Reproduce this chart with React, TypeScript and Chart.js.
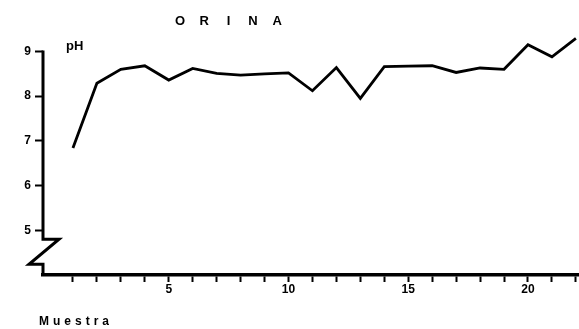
import React, { useEffect, useRef } from "react";
import { Chart, registerables } from "chart.js";

Chart.register(...registerables);

// ---- data ----
const samples: number[] = [1, 2, 3, 4, 5, 6, 7, 8, 9, 10, 11, 12, 13, 14, 15, 16, 17, 18, 19, 20, 21, 22];
const phValues: number[] = [6.84, 8.29, 8.6, 8.68, 8.36, 8.62, 8.51, 8.47, 8.5, 8.52, 8.12, 8.64, 7.95, 8.66, 8.67, 8.68, 8.53, 8.63, 8.6, 9.15, 8.88, 9.29];
const yTickValues: number[] = [5, 6, 7, 8, 9];
const xLabelEvery = 5;
const titleText = "ORINA";
const yUnitText = "pH";
const xTitleText = "Muestra";

const FONT = "'Liberation Sans', Arial, sans-serif";

const decorPlugin = {
  id: "decor",
  afterDraw(chart: any) {
    const ctx = chart.ctx as CanvasRenderingContext2D;
    const y = chart.scales.y;
    const area = chart.chartArea;
    const x0 = area.left;
    ctx.save();
    // y axis line with break
    ctx.strokeStyle = "#000";
    ctx.lineWidth = 3;
    ctx.lineJoin = "miter";
    const yTop = y.getPixelForValue(9) - 1;
    const yb1 = y.getPixelForValue(4.8);
    const yb2 = y.getPixelForValue(4.24);
    ctx.beginPath();
    ctx.moveTo(x0, yTop);
    ctx.lineTo(x0, yb1);
    ctx.lineTo(x0 + 16, yb1);
    ctx.lineTo(x0 - 14, yb2);
    ctx.lineTo(x0, yb2);
    ctx.lineTo(x0, area.bottom);
    ctx.stroke();

    ctx.fillStyle = "#000";
    // title
    ctx.font = `bold 13px ${FONT}`;
    ctx.textAlign = "center";
    ctx.textBaseline = "middle";
    const chars = titleText.split("");
    chars.forEach((c, i) => {
      ctx.fillText(c, 180 + i * 24.3, 21);
    });
    // pH
    ctx.font = `bold 13px ${FONT}`;
    ctx.textAlign = "left";
    ctx.fillText(yUnitText, 66, 46);
    // Muestra
    (ctx as any).letterSpacing = "4px";
    ctx.font = `bold 12px ${FONT}`;
    ctx.textAlign = "left";
    ctx.textBaseline = "alphabetic";
    ctx.fillText(xTitleText, 39, 325);
    (ctx as any).letterSpacing = "0px";
    ctx.restore();
  },
};

export default function App() {
  const ref = useRef<HTMLCanvasElement>(null);
  useEffect(() => {
    if (!ref.current) return;
    const chart = new Chart(ref.current, {
      type: "line",
      data: {
        datasets: [
          {
            data: samples.map((s, i) => ({ x: s, y: phValues[i] })),
            borderColor: "#000",
            borderWidth: 2.8,
            pointRadius: 0,
            tension: 0,
            fill: false,
          },
        ],
      },
      options: {
        animation: false,
        responsive: false,
        layout: { padding: { top: 2, left: 0, right: 0, bottom: 0 } },
        plugins: { legend: { display: false }, tooltip: { enabled: false }, title: { display: false } },
        scales: {
          x: {
            type: "linear",
            min: -0.25,
            max: 22.13,
            afterBuildTicks: (axis: any) => {
              axis.ticks = samples.map((v) => ({ value: v }));
            },
            afterFit: (scale: any) => {
              scale.height = 54;
            },
            grid: {
              drawOnChartArea: false,
              drawTicks: true,
              tickLength: 7,
              tickWidth: 2,
              tickColor: "#000",
              color: "#000",
            },
            border: { display: true, color: "#000", width: 3.5 },
            ticks: {
              autoSkip: false,
              maxRotation: 0,
              padding: 0,
              color: "#000",
              font: { family: FONT, size: 12, weight: "bold" },
              callback: (v: any) => (Number(v) % xLabelEvery === 0 ? String(v) : ""),
            },
          },
          y: {
            type: "linear",
            min: 4,
            max: 9.9,
            afterBuildTicks: (axis: any) => {
              axis.ticks = yTickValues.map((v) => ({ value: v }));
            },
            afterFit: (scale: any) => {
              scale.width = 43;
            },
            grid: {
              drawOnChartArea: false,
              drawTicks: true,
              tickLength: 8,
              tickWidth: 2,
              tickColor: "#000",
              color: "#000",
            },
            border: { display: false },
            ticks: {
              padding: 4,
              color: "#000",
              font: { family: FONT, size: 12, weight: "bold" },
              callback: (v: any) => String(v),
            },
          },
        },
      },
      plugins: [decorPlugin],
    });
    return () => chart.destroy();
  }, []);
  return (
    <div style={{ position: "fixed", left: 0, top: 0, width: 579, height: 329, background: "#fff" }}>
      <canvas ref={ref} width={579} height={329} style={{ display: "block" }} />
    </div>
  );
}
